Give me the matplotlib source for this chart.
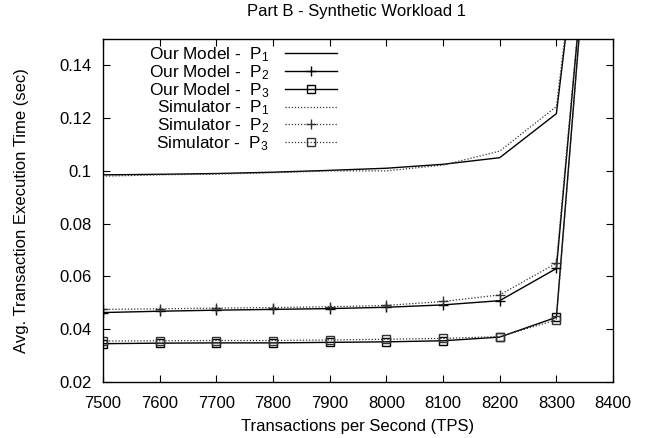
import matplotlib
matplotlib.use("Agg")
import matplotlib.pyplot as plt

plt.rcParams['font.family'] = ['Liberation Sans', 'DejaVu Sans']
plt.rcParams['mathtext.fontset'] = 'custom'
plt.rcParams['mathtext.rm'] = 'Liberation Sans'
plt.rcParams['mathtext.it'] = 'Liberation Sans:italic'
plt.rcParams['mathtext.default'] = 'rm'

tps = [7500, 7600, 7700, 7800, 7900, 8000, 8100, 8200, 8300, 8400]

model_p1 = [0.0985, 0.0987, 0.0990, 0.0995, 0.1002, 0.1010, 0.1025, 0.1050, 0.1217, 0.300]
model_p2 = [0.0463, 0.0468, 0.0472, 0.0475, 0.0478, 0.0483, 0.0492, 0.0508, 0.0630, 0.300]
model_p3 = [0.0345, 0.0347, 0.0348, 0.0348, 0.0350, 0.0352, 0.0356, 0.0370, 0.0445, 0.310]
sim_p1 = [0.0980, 0.0985, 0.0988, 0.0993, 0.1000, 0.1000, 0.1022, 0.1075, 0.1244, 0.300]
sim_p2 = [0.0475, 0.0477, 0.0480, 0.0482, 0.0485, 0.0490, 0.0505, 0.0530, 0.0650, 0.300]
sim_p3 = [0.0355, 0.0356, 0.0357, 0.0357, 0.0359, 0.0362, 0.0365, 0.0372, 0.0435, 0.310]

xticks = [7500, 7600, 7700, 7800, 7900, 8000, 8100, 8200, 8300, 8400]
yticks = [0.02, 0.04, 0.06, 0.08, 0.10, 0.12, 0.14]
ytick_labels = ["0.02", "0.04", "0.06", "0.08", "0.1", "0.12", "0.14"]

fig = plt.figure(figsize=(6.55, 4.38), dpi=100)
ax = fig.add_axes([0.157, 0.128, 0.779, 0.783])

ms = 5.5
ax.plot(tps, model_p1, color='black', lw=1.0, label=r'Our Model -  P$_1$')
ax.plot(tps, model_p2, color='black', lw=1.0, marker='+', ms=ms + 1, mew=1.0, label=r'Our Model -  P$_2$')
ax.plot(tps, model_p3, color='black', lw=1.0, marker='s', ms=ms, mfc='none', mew=1.0, label=r'Our Model -  P$_3$')
ax.plot(tps, sim_p1, color='#333333', lw=0.9, ls=(0, (1, 1.5)), label=r'Simulator -  P$_1$')
ax.plot(tps, sim_p2, color='#333333', lw=0.9, ls=(0, (1, 1.5)), marker='+', ms=ms + 1, mew=1.0, label=r'Simulator -  P$_2$')
ax.plot(tps, sim_p3, color='#333333', lw=0.9, ls=(0, (1, 1.5)), marker='s', ms=ms, mfc='none', mew=1.0, label=r'Simulator -  P$_3$')

ax.set_xlim(7500, 8400)
ax.set_ylim(0.02, 0.15)
ax.set_xticks(xticks)
ax.set_xticklabels([str(t) for t in xticks])
ax.set_yticks(yticks)
ax.set_yticklabels(ytick_labels)
ax.tick_params(direction='in', top=True, right=True, length=5, width=0.8, labelsize=12)
ax.tick_params(axis='x', pad=10)
ax.tick_params(axis='y', pad=8)
for s in ax.spines.values():
    s.set_linewidth(1.0)

ax.set_xlabel('Transactions per Second (TPS)', fontsize=12, labelpad=6)
ax.set_ylabel('Avg. Transaction Execution Time (sec)', fontsize=12, labelpad=22)
fig.suptitle('Part B - Synthetic Workload 1', fontsize=12, x=0.545, y=0.99)

leg = ax.legend(loc='upper right', bbox_to_anchor=(0.458, 0.982), frameon=False,
                markerfirst=False, fontsize=12.4, handlelength=3.0, handletextpad=0.9,
                labelspacing=-0.05, borderpad=0.0, borderaxespad=0.0)

fig.savefig('out.png', dpi=100)
